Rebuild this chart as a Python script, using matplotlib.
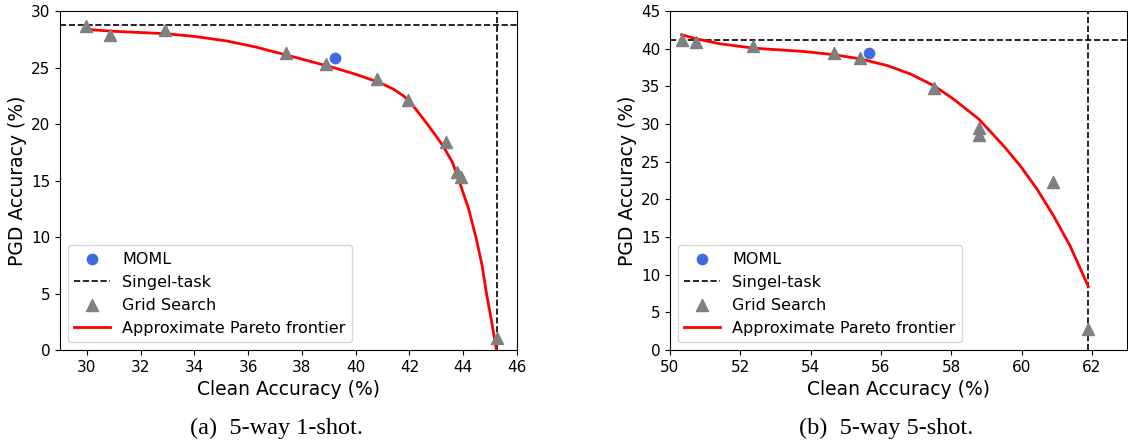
import matplotlib
matplotlib.use("Agg")
import matplotlib.pyplot as plt

# ---- panel (a) 5-way 1-shot ----
a_grid_x = [29.95, 30.87, 32.9, 37.42, 38.9, 40.79, 41.94, 43.37, 43.77, 43.9, 45.24]
a_grid_y = [28.7, 27.9, 28.3, 26.3, 25.3, 23.95, 22.1, 18.4, 15.75, 15.3, 1.1]
a_moml_x = [39.24]
a_moml_y = [25.8]
a_single_clean = 45.24
a_single_pgd = 28.8
a_front_x = [29.94, 31.0, 32.9, 34.0, 35.2, 36.3, 37.43, 38.3, 39.16, 40.0, 40.9, 41.39, 41.8, 42.14,
             42.63, 43.0, 43.25, 43.6, 43.87, 44.2, 44.49, 44.7, 44.86, 45.05, 45.23]
a_front_y = [28.38, 28.2, 28.0, 27.75, 27.35, 26.8, 26.1, 25.55, 25.0, 24.4, 23.66, 23.1, 22.45, 21.6,
             20.1, 18.9, 18.05, 16.6, 14.8, 12.5, 9.8, 7.5, 5.07, 2.6, 0.06]

# ---- panel (b) 5-way 5-shot ----
b_grid_x = [50.33, 50.75, 52.37, 54.66, 55.41, 57.5, 58.78, 58.8, 60.89, 61.9]
b_grid_y = [41.1, 40.9, 40.3, 39.45, 38.8, 34.8, 29.5, 28.5, 22.25, 2.75]
b_moml_x = [55.66]
b_moml_y = [39.45]
b_single_clean = 61.9
b_single_pgd = 41.1
b_front_x = [50.33, 50.75, 51.42, 52.37, 53.8, 54.66, 55.41, 56.17, 56.83, 57.5, 58.06, 58.78,
             59.49, 59.96, 60.44, 60.91, 61.38, 61.9]
b_front_y = [41.85, 41.3, 40.65, 40.07, 39.63, 39.2, 38.65, 37.77, 36.66, 35.1, 33.33, 30.67,
             27.1, 24.47, 21.36, 17.82, 13.83, 8.42]

a_xticks = [30, 32, 34, 36, 38, 40, 42, 44, 46]
a_yticks = [0, 5, 10, 15, 20, 25, 30]
b_xticks = [50, 52, 54, 56, 58, 60, 62]
b_yticks = [0, 5, 10, 15, 20, 25, 30, 35, 40, 45]

captions = ["(a)  5-way 1-shot.", "(b)  5-way 5-shot."]

plt.rcParams['font.family'] = ['DejaVu Sans']

fig = plt.figure(figsize=(11.28, 4.44), dpi=100)
ax1 = fig.add_axes([60 / 1128, 94 / 444, 457 / 1128, 339 / 444])
ax2 = fig.add_axes([670 / 1128, 94 / 444, 457 / 1128, 339 / 444])


def draw(ax, gx, gy, mx, my, sc, sp, fx, fy, xlim, ylim, xt, yt):
    ax.scatter(mx, my, s=55, color='#4169E1', zorder=5, label='MOML')
    ax.axhline(sp, color='black', ls='--', lw=1.2, label='Singel-task')
    ax.axvline(sc, color='black', ls='--', lw=1.2)
    ax.scatter(gx, gy, s=75, marker='^', color='#808080', zorder=4, label='Grid Search')
    ax.plot(fx, fy, color='red', lw=2, zorder=3, label='Approximate Pareto frontier')
    ax.set_xlim(*xlim)
    ax.set_ylim(*ylim)
    ax.set_xticks(xt)
    ax.set_yticks(yt)
    ax.tick_params(labelsize=11)
    ax.set_xlabel('Clean Accuracy (%)', fontsize=13.5, labelpad=4)
    ax.set_ylabel('PGD Accuracy (%)', fontsize=13.5, labelpad=3)
    ax.legend(loc='lower left', fontsize=11.5, borderaxespad=0.5, handlelength=2.2)


draw(ax1, a_grid_x, a_grid_y, a_moml_x, a_moml_y, a_single_clean, a_single_pgd,
     a_front_x, a_front_y, (29.0, 46.0), (0, 30), a_xticks, a_yticks)
draw(ax2, b_grid_x, b_grid_y, b_moml_x, b_moml_y, b_single_clean, b_single_pgd,
     b_front_x, b_front_y, (50.0, 63.0), (0, 45), b_xticks, b_yticks)

fig.text(276 / 1128, 1 - 428 / 444, captions[0], ha='center', va='center',
         fontsize=17.5, family='Liberation Serif')
fig.text(886 / 1128, 1 - 428 / 444, captions[1], ha='center', va='center',
         fontsize=17.5, family='Liberation Serif')

fig.savefig('out.png', dpi=100)
